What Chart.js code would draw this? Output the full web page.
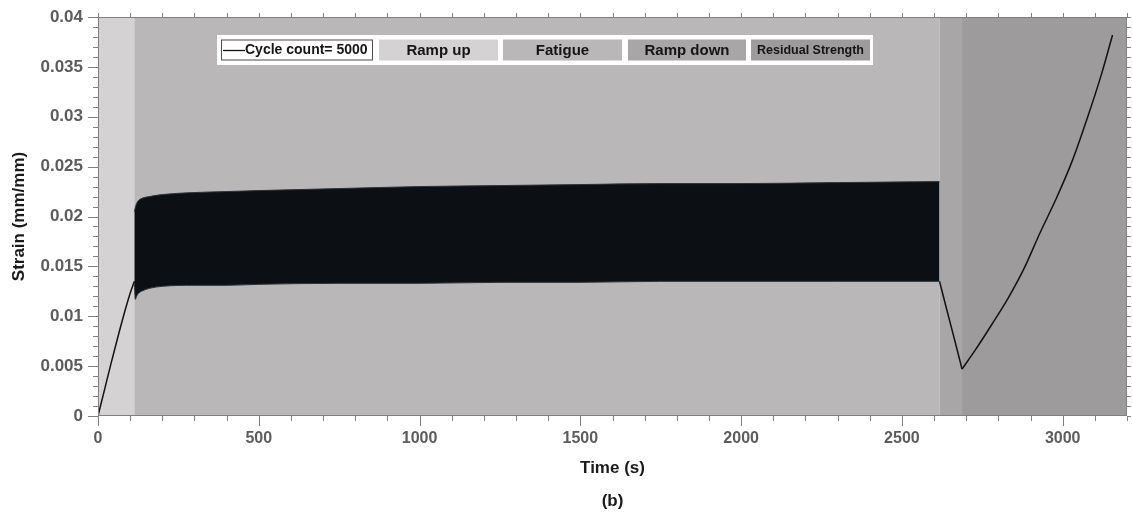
<!DOCTYPE html>
<html>
<head>
<meta charset="utf-8">
<title>Strain vs time</title>
<script src="https://cdn.jsdelivr.net/npm/chart.js@4.4.1/dist/chart.umd.min.js"></script>
<style>
    html, body { margin: 0; padding: 0; background: #ffffff; }
    #wrap { width: 1133px; height: 521px; }
</style>
</head>
<body>
<div id="wrap"><canvas id="strain-chart" width="1133" height="521"></canvas></div>
<script>
// test phases (s)
var phaseNames = ['Ramp up', 'Fatigue', 'Ramp down', 'Residual Strength'];
var phaseStart = [0, 113, 2617, 2687];
var phaseEnd = [113, 2617, 2687, 3200];
var phaseColors = ['#d4d2d3', '#b9b7b8', '#a8a6a7', '#9d9b9c'];

var cycleLabel = 'Cycle count= 5000';

var xTickValues = [0, 500, 1000, 1500, 2000, 2500, 3000];
var yTickValues = [0, 0.005, 0.01, 0.015, 0.02, 0.025, 0.03, 0.035, 0.04];

var rampUpTime = [0, 20, 40, 60, 80, 100, 113];
var rampUpStrain = [0, 0.0026, 0.0052, 0.0077, 0.0101, 0.0123, 0.0135];

// fatigue: 5000 cycles, drawn as the band between max and min strain
var fatigueTime = [113, 116, 120, 126, 135, 160, 200, 300, 400, 500, 750, 1000, 1250, 1500, 1750, 2000, 2300, 2617];
var fatigueUpper = [0.0205, 0.0209, 0.0213, 0.0216, 0.0218, 0.0220, 0.0222, 0.0224, 0.0225, 0.0226, 0.0228, 0.0230, 0.0231, 0.0232, 0.0233, 0.0233, 0.0234, 0.0235];
var fatigueLower = [0.0134, 0.0117, 0.0120, 0.0123, 0.0125, 0.0128, 0.0130, 0.0131, 0.0131, 0.0132, 0.0133, 0.0133, 0.0134, 0.0134, 0.0135, 0.0135, 0.0135, 0.0135];

var rampDownTime = [2617, 2640, 2665, 2687];
var rampDownStrain = [0.0135, 0.0106, 0.0075, 0.0047];

var residualTime = [2687, 2730, 2780, 2830, 2880, 2930, 2980, 3030, 3080, 3120, 3155];
var residualStrain = [0.0047, 0.0067, 0.0092, 0.0118, 0.0148, 0.0184, 0.0218, 0.0256, 0.0302, 0.0342, 0.0382];

var xRange = { min: 0, max: 3200, minor: 100, per: 5 };
var yRange = { min: 0, max: 0.04, minor: 0.001, per: 5 };

var fontFamily = '"Liberation Sans", Arial, sans-serif';

function toPoints(xs, ys) {
    var pts = [];
    for (var i = 0; i < xs.length; i++) {
        pts.push({ x: xs[i], y: ys[i] });
    }
    return pts;
}

function lineSet(label, xs, ys) {
    return {
        label: label,
        data: toPoints(xs, ys),
        borderColor: '#121212',
        borderWidth: 1.5,
        pointRadius: 0,
        fill: false,
        cubicInterpolationMode: 'monotone'
    };
}

var phaseBands = {
    id: 'phaseBands',
    beforeDatasetsDraw: function(chart) {
        var ctx = chart.ctx, area = chart.chartArea, x = chart.scales.x;
        ctx.save();
        for (var i = 0; i < phaseNames.length; i++) {
            var x0 = x.getPixelForValue(phaseStart[i]);
            var x1 = x.getPixelForValue(phaseEnd[i]);
            ctx.fillStyle = phaseColors[i];
            ctx.fillRect(x0, area.top, x1 - x0, area.bottom - area.top);
        }
        ctx.restore();
    }
};

// box frame with major/minor tick marks pointing outwards on all four sides
var frameTicks = {
    id: 'frameTicks',
    afterDraw: function(chart) {
        var ctx = chart.ctx, a = chart.chartArea;
        var xs = chart.scales.x, ys = chart.scales.y;
        ctx.save();
        ctx.strokeStyle = '#808080';
        ctx.lineWidth = 1;
        ctx.strokeRect(a.left + 0.5, a.top + 0.5, a.right - a.left - 1, a.bottom - a.top - 1);
        ctx.beginPath();
        var n = Math.round((xRange.max - xRange.min) / xRange.minor);
        for (var i = 0; i <= n; i++) {
            var px = Math.round(xs.getPixelForValue(xRange.min + i * xRange.minor)) + 0.5;
            var len = (i % xRange.per === 0) ? 10 : 5;
            ctx.moveTo(px, a.bottom);
            ctx.lineTo(px, a.bottom + len);
            ctx.moveTo(px, a.top);
            ctx.lineTo(px, a.top - 4);
        }
        n = Math.round((yRange.max - yRange.min) / yRange.minor);
        for (var j = 0; j <= n; j++) {
            var py = Math.round(ys.getPixelForValue(yRange.min + j * yRange.minor)) + 0.5;
            var l2 = (j % yRange.per === 0) ? 10 : 5;
            ctx.moveTo(a.left, py);
            ctx.lineTo(a.left - l2, py);
            ctx.moveTo(a.right, py);
            ctx.lineTo(a.right + 4, py);
        }
        ctx.stroke();
        ctx.restore();
    }
};

var phaseLegend = {
    id: 'phaseLegend',
    afterDraw: function(chart) {
        var ctx = chart.ctx;
        var cellX = [379, 503, 628, 751];
        var cellW = [119, 119, 118, 119];
        var top = 39.5, h = 21, mid = 50.5;
        ctx.save();
        ctx.fillStyle = '#ffffff';
        ctx.fillRect(217, 35, 656, 30);

        ctx.strokeStyle = '#4d4d4d';
        ctx.lineWidth = 1;
        ctx.strokeRect(221.5, top + 0.5, 151, h - 1);
        ctx.beginPath();
        ctx.strokeStyle = '#111111';
        ctx.lineWidth = 1.3;
        ctx.moveTo(223, mid);
        ctx.lineTo(245, mid);
        ctx.stroke();

        ctx.fillStyle = '#151515';
        ctx.textBaseline = 'middle';
        ctx.textAlign = 'left';
        ctx.font = 'bold 14px ' + fontFamily;
        ctx.fillText(cycleLabel, 245, mid);

        ctx.textAlign = 'center';
        for (var i = 0; i < phaseNames.length; i++) {
            ctx.fillStyle = phaseColors[i];
            ctx.fillRect(cellX[i], top, cellW[i], h);
            ctx.fillStyle = '#151515';
            ctx.font = (i === 3 ? 'bold 12.5px ' : 'bold 15px ') + fontFamily;
            ctx.fillText(phaseNames[i], cellX[i] + cellW[i] / 2, mid);
        }
        ctx.restore();
    }
};

function fmtTick(v) {
    return String(+Number(v).toFixed(4));
}

function setTicks(values) {
    return function(scale) {
        scale.ticks = values.map(function(v) { return { value: v }; });
    };
}

var chart = new Chart(document.getElementById('strain-chart'), {
    type: 'line',
    data: {
        datasets: [
            lineSet(cycleLabel, rampUpTime, rampUpStrain),
            {
                label: 'Fatigue max',
                data: toPoints(fatigueTime, fatigueUpper),
                borderColor: '#2e3236',
                borderWidth: 1,
                pointRadius: 0,
                fill: false,
                cubicInterpolationMode: 'monotone'
            },
            {
                label: 'Fatigue min',
                data: toPoints(fatigueTime, fatigueLower),
                borderColor: '#2e3236',
                borderWidth: 1,
                pointRadius: 0,
                fill: '-1',
                backgroundColor: '#0c1014',
                cubicInterpolationMode: 'monotone'
            },
            lineSet('Ramp down', rampDownTime, rampDownStrain),
            lineSet('Residual', residualTime, residualStrain)
        ]
    },
    options: {
        responsive: false,
        animation: false,
        devicePixelRatio: 1,
        events: [],
        layout: { padding: { left: 0, right: 6, top: 17, bottom: 0 } },
        plugins: {
            legend: { display: false },
            tooltip: { enabled: false }
        },
        scales: {
            x: {
                type: 'linear',
                min: xRange.min,
                max: xRange.max,
                afterBuildTicks: setTicks(xTickValues),
                grid: { display: false, drawTicks: true, tickLength: 10 },
                border: { display: false },
                ticks: {
                    maxRotation: 0,
                    autoSkip: false,
                    padding: 3,
                    color: '#5c5c5c',
                    font: { family: fontFamily, size: 16, weight: 'bold' },
                    callback: fmtTick
                },
                // axis name plus the panel tag underneath it
                title: {
                    display: true,
                    text: ['Time (s)', '(b)'],
                    color: '#1a1a1a',
                    font: { family: fontFamily, size: 17, weight: 'bold', lineHeight: 1.94 },
                    padding: { top: 0, bottom: 3.5 }
                },
                afterFit: function(scale) { scale.height = 105; }
            },
            y: {
                type: 'linear',
                min: yRange.min,
                max: yRange.max,
                afterBuildTicks: setTicks(yTickValues),
                grid: { display: false, drawTicks: true, tickLength: 13 },
                border: { display: false },
                ticks: {
                    autoSkip: false,
                    padding: 2,
                    color: '#5c5c5c',
                    font: { family: fontFamily, size: 17, weight: 'bold' },
                    callback: fmtTick
                },
                title: {
                    display: true,
                    text: 'Strain (mm/mm)',
                    color: '#1a1a1a',
                    font: { family: fontFamily, size: 17, weight: 'bold' },
                    padding: { top: 9, bottom: 0 }
                },
                afterFit: function(scale) { scale.width = 98; }
            }
        }
    },
    plugins: [phaseBands, frameTicks, phaseLegend]
});
console.log('chart area', chart.chartArea);
</script>
</body>
</html>
